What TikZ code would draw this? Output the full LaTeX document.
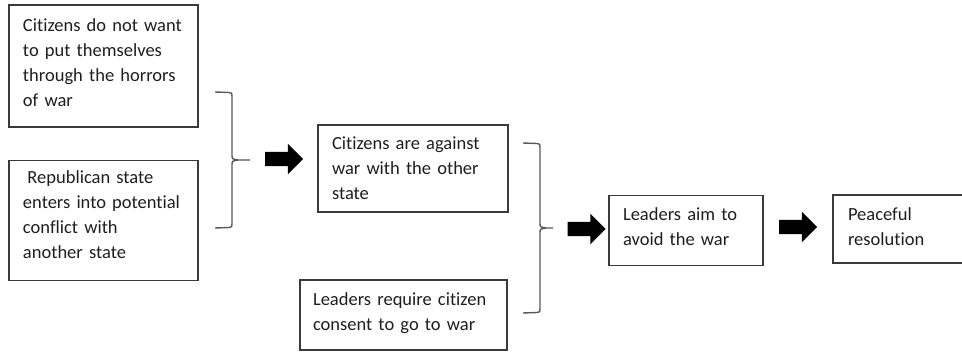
\documentclass[tikz,border=0pt]{standalone}
\usepackage{fontspec}
\setmainfont[Ligatures=NoCommon]{Carlito}
\usetikzlibrary{shapes.arrows}
\definecolor{ink}{HTML}{1E1E1E}
\definecolor{edge}{HTML}{3A3A3A}
% left text inset of a box, kept for every line of its paragraphs
\newcommand\inset[1]{\leftskip=#1\relax\hyphenpenalty=10000\relax}
% extra room under the last line, which raises the text inside its box
\newcommand\lift[1]{\par\vspace*{#1}}
\begin{document}
\begin{tikzpicture}[x=1pt,y=-1pt,
  box/.style={draw=edge, line width=1.1pt, align=left, text=ink,
    font=\fontsize{18.5}{25}\selectfont, inner xsep=0pt, inner ysep=0pt,
    minimum height=#1},
  blockarrow/.style={single arrow, fill=black, draw=none, inner sep=7pt,
    single arrow head extend=8pt, minimum height=38pt, single arrow head indent=0pt},
  bracket/.style={draw=edge!85, line width=1.4pt, line join=round}]
\useasboundingbox (0,0) rectangle (962,352);

% statement boxes (centre, width, height)
\node[box=122pt, text width=189pt] (b1) at (103.5,66)
  {\inset{14pt}Citizens do not want\\to put themselves\\through the horrors\\of war\lift{6pt}};
\node[box=120pt, text width=189pt] (b2) at (103.5,220.5)
  {\inset{14pt}\hspace*{4.5pt}Republican state\\enters into potential\\conflict with\\another state\lift{11pt}};
\node[box=87pt, text width=190pt] (b3) at (413,168.5)
  {\inset{14pt}Citizens are against\\war with the other\\state\par};
\node[box=70pt, text width=207pt] (b4) at (403.5,315)
  {\inset{13pt}Leaders require citizen\\consent to go to war\lift{4pt}};
\node[box=70pt, text width=154pt] (b5) at (686,230.5)
  {\inset{14pt}Leaders aim to\\avoid the war\lift{7pt}};
\node[box=68pt, text width=136pt] (b6) at (901,229)
  {\inset{15pt}Peaceful\\resolution\lift{4pt}};

% first bracket joining the two opening statements
\coordinate (t1a) at (215,92);
\coordinate (t1b) at (215,228);
\coordinate (m1) at (250,160);
\draw[bracket] (t1a) -- (229,92.5) .. controls (232,93) .. (232,96) -- (232,155)
  .. controls (232,159) .. (238,160) -- (m1);
\draw[bracket] (t1b) -- (229,227.5) .. controls (232,227) .. (232,224) -- (232,165)
  .. controls (232,161) .. (238,160);

% second bracket joining the middle statements
\coordinate (t2a) at (523,143);
\coordinate (t2b) at (523,313);
\coordinate (m2) at (553,228);
\draw[bracket] (t2a) -- (537,143.5) .. controls (540,144) .. (540,147) -- (540,223)
  .. controls (540,227) .. (546,228) -- (m2);
\draw[bracket] (t2b) -- (537,312.5) .. controls (540,312) .. (540,309) -- (540,233)
  .. controls (540,229) .. (546,228);

% block arrows along the chain
\node[blockarrow] (a1) at (280.5,159) {};
\node[blockarrow] (a2) at (583,229) {};
\node[blockarrow] (a3) at (794.5,227) {};
\end{tikzpicture}
\end{document}
